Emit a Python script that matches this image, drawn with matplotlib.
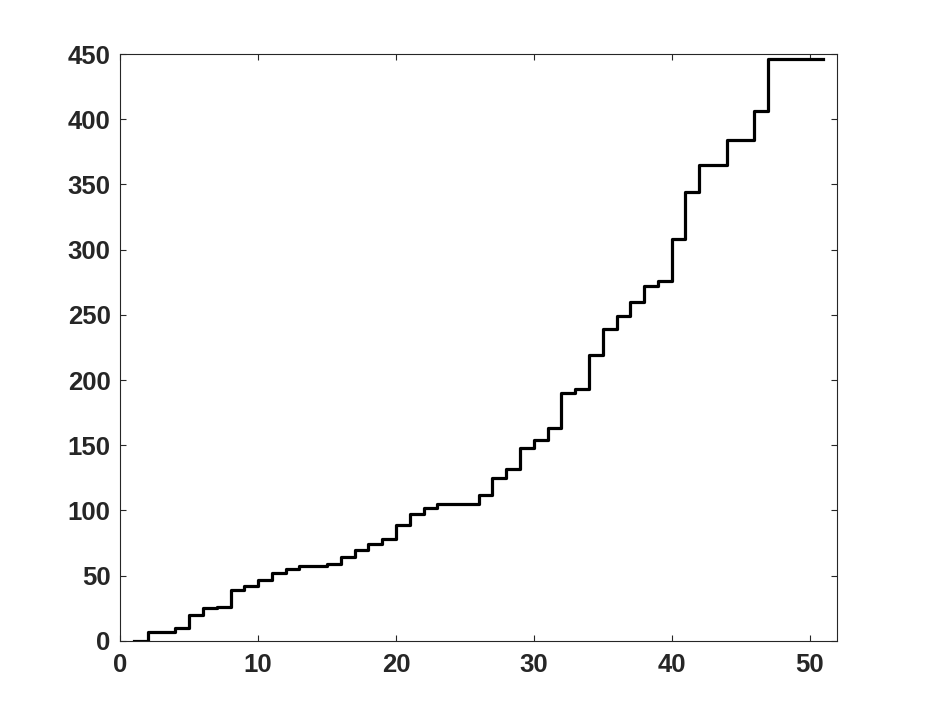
import matplotlib
matplotlib.use("Agg")
import matplotlib.pyplot as plt

x_values = list(range(1, 52))
y_values = [0, 7, 7, 10, 20, 25, 26, 39, 42, 47,
            52, 55, 57, 57, 59, 64, 70, 74, 78, 89,
            97, 102, 105, 105, 105, 112, 125, 132, 148, 154,
            163, 190, 193, 219, 239, 249, 260, 272, 276, 308,
            344, 365, 365, 384, 384, 406, 446, 446, 446, 446,
            446]
x_ticks = [0, 10, 20, 30, 40, 50]
y_ticks = [0, 50, 100, 150, 200, 250, 300, 350, 400, 450]

plt.rcParams['font.family'] = ['Liberation Sans', 'DejaVu Sans']
fig = plt.figure(figsize=(9.25, 7.2), dpi=100)
ax = fig.add_axes([0.13, 0.11, 0.775, 0.815])
ax.step(x_values, y_values, where='post', color='black', linewidth=2.3)
ax.set_xlim(0, 52)
ax.set_ylim(0, 450)
ax.set_xticks(x_ticks)
ax.set_yticks(y_ticks)
dark = '#262626'
for s in ax.spines.values():
    s.set_color(dark)
    s.set_linewidth(0.8)
ax.tick_params(direction='in', length=4.5, width=0.8, colors=dark,
               top=True, right=True, labelsize=18.5)
ax.tick_params(axis='x', pad=9)
ax.tick_params(axis='y', pad=7)
for lab in ax.get_xticklabels() + ax.get_yticklabels():
    lab.set_fontweight('bold')
fig.savefig('out.png', dpi=100)
